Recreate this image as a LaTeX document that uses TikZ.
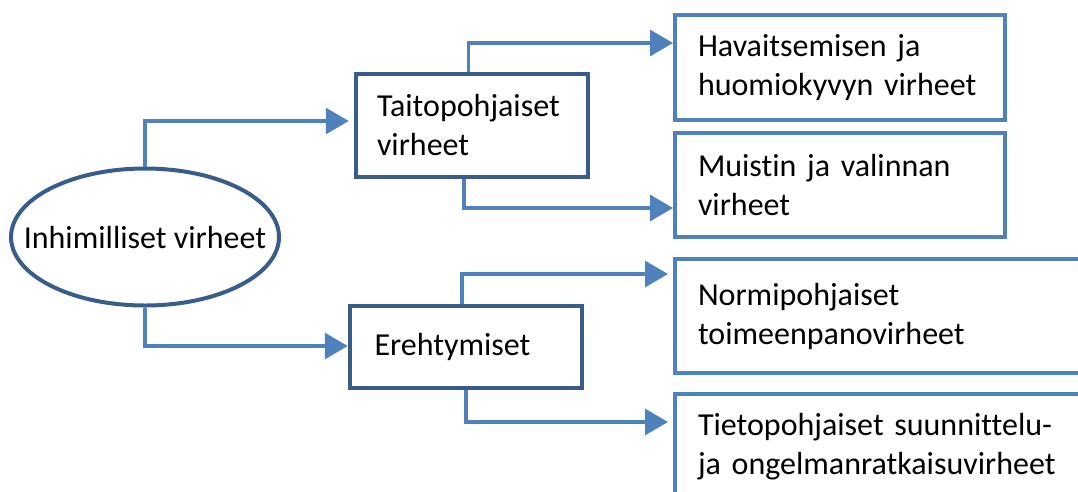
\documentclass[tikz,border=0pt]{standalone}
\usepackage{fontspec}
\setmainfont{Carlito}[Ligatures=NoCommon]
\usepackage{xcolor}
\usepackage{tikz}
\usetikzlibrary{arrows.meta,shapes.geometric}

\definecolor{darkblue}{HTML}{385D8A}
\definecolor{lightblue}{HTML}{4F81BD}

\begin{document}
\begin{tikzpicture}[x=1pt,y=-1pt,
    every node/.style={font=\fontsize{32}{39}\selectfont},
    mainbox/.style={draw=darkblue,line width=4.5pt,rectangle,align=left,inner xsep=21pt,inner ysep=0pt},
    subbox/.style={draw=lightblue,line width=4pt,rectangle,align=left,inner xsep=23pt,inner ysep=0pt},
    conn/.style={draw=lightblue,line width=3.2pt,-{Triangle[length=23pt,width=26pt]}}]
    \useasboundingbox (0,0) rectangle (1078,491);
    \clip (0,0) rectangle (1078,491);

    \node[draw=darkblue,line width=4pt,ellipse,inner sep=0pt,minimum width=268pt,minimum height=137pt] (inh) at (145,237) {\makebox[0pt]{Inhimilliset virheet}};
    \node[mainbox,text width=190pt,minimum height=103pt] (taito) at (472,125.5) {Taitopohjaiset\\virheet};
    \node[mainbox,text width=183pt,inner xsep=24.5pt,minimum height=82pt] (ereh) at (466,347) {Erehtymiset};
    \node[subbox,text width=284pt,minimum height=105pt] (hav) at (840,67.5) {Havaitsemisen ja\\huomiokyvyn virheet};
    \node[subbox,text width=284pt,minimum height=104pt] (mui) at (840,185) {Muistin ja valinnan\\virheet};
    \node[subbox,text width=379pt,minimum height=114pt] (normi) at (887.5,316) {Normipohjaiset\\toimeenpanovirheet};
    \node[subbox,text width=379pt,minimum height=106pt] (tieto) at (887.5,447) {Tietopohjaiset suunnittelu-\\ja ongelmanratkaisuvirheet};

    \draw[conn,shorten >=5pt] (inh.north) |- ([yshift=4.5pt]taito.west);
    \draw[conn] (inh.south) |- ([yshift=1pt]ereh.west);
    \draw[conn] ([xshift=-3.5pt]taito.north) |- ([yshift=24.5pt]hav.west);
    \draw[conn] ([xshift=-8pt]taito.south) |- ([yshift=-23pt]mui.west);
    \draw[conn,shorten >=5pt] ([xshift=-4pt]ereh.north) |- ([yshift=42pt]normi.west);
    \draw[conn,shorten >=5pt] (ereh.south) |- ([yshift=25pt]tieto.west);

  \end{tikzpicture}
\end{document}
